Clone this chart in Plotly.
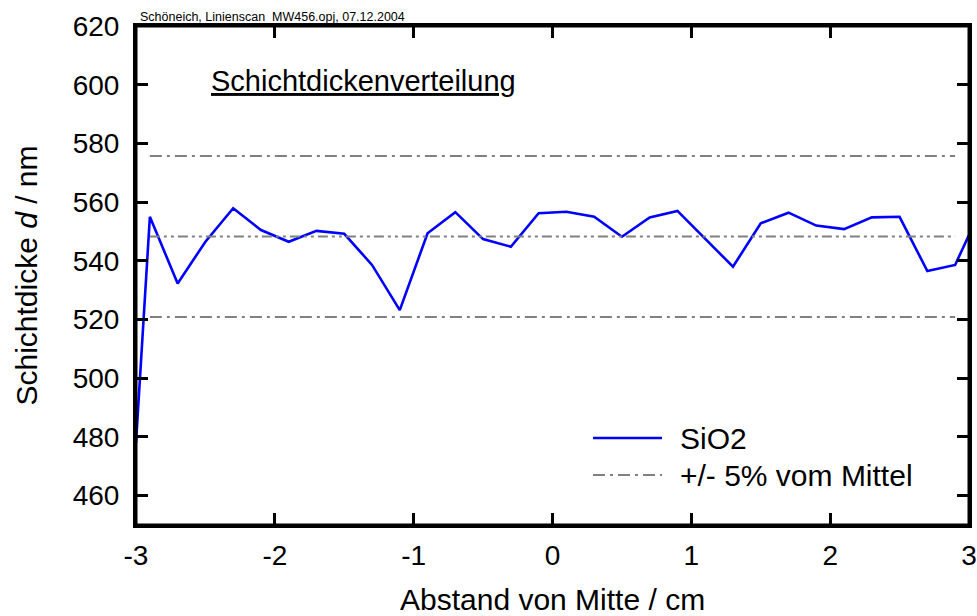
import plotly.graph_objects as go

# Data
pos_cm = [-3.0, -2.9, -2.7, -2.5, -2.3, -2.1, -1.9, -1.7, -1.5, -1.3, -1.1, -0.9,
          -0.7, -0.5, -0.3, -0.1, 0.1, 0.3, 0.5, 0.7, 0.9, 1.1, 1.3, 1.5, 1.7,
          1.9, 2.1, 2.3, 2.5, 2.7, 2.9, 3.0]
sio2_nm = [478.0, 555.0, 532.3, 546.5, 557.9, 550.5, 546.5, 550.2, 549.2, 538.6,
           523.2, 549.4, 556.6, 547.4, 544.8, 556.2, 556.7, 555.0, 548.2, 554.8,
           557.0, 547.5, 538.0, 552.8, 556.4, 552.0, 550.8, 554.8, 555.0, 536.5,
           538.6, 548.8]
ref_x = [-2.9, 2.9]
mean_nm = 548.3
upper_nm = 575.7
lower_nm = 520.9
x_ticks = [-3, -2, -1, 0, 1, 2, 3]
x_tick_labels = ["-3", "-2", "-1", "0", "1", "2", "3"]
y_ticks = [460, 480, 500, 520, 540, 560, 580, 600, 620]
y_tick_labels = ["460", "480", "500", "520", "540", "560", "580", "600", "620"]
legend_labels = ["SiO2", "+/- 5% vom Mittel"]

FONT = "Liberation Sans, Arial, sans-serif"
GRAY = "#808080"
BLUE = "#0000ff"
DASHDOT = "12px,5px,3px,5px"
DASHDOTDOT = "10px,4px,3px,4px,3px,4px"

fig = go.Figure()
fig.add_trace(go.Scatter(x=pos_cm, y=sio2_nm, mode="lines", name=legend_labels[0],
                         line=dict(color=BLUE, width=2.6)))
fig.add_trace(go.Scatter(x=ref_x, y=[upper_nm, upper_nm], mode="lines",
                         name=legend_labels[1], line=dict(color=GRAY, width=2, dash=DASHDOT)))
fig.add_trace(go.Scatter(x=ref_x, y=[lower_nm, lower_nm], mode="lines",
                         name=legend_labels[1], line=dict(color=GRAY, width=2, dash=DASHDOT)))
fig.add_trace(go.Scatter(x=ref_x, y=[mean_nm, mean_nm], mode="lines",
                         name="Mittel", line=dict(color=GRAY, width=2, dash=DASHDOTDOT)))

axis_common = dict(showline=True, linecolor="black", linewidth=3, mirror="allticks",
                   ticks="inside", ticklen=12, tickwidth=3, tickcolor="black",
                   showgrid=False, zeroline=False, automargin=False,
                   tickfont=dict(family=FONT, size=28, color="black"))

fig.update_xaxes(range=[-3, 3], tickvals=x_ticks, ticktext=x_tick_labels,
                 ticklabelstandoff=3, **axis_common)
fig.update_yaxes(range=[450, 620], tickvals=y_ticks, ticktext=y_tick_labels,
                 ticklabelstandoff=8,
                 title=dict(text="Schichtdicke <i>d</i> / nm",
                            font=dict(family=FONT, size=30, color="black"), standoff=27),
                 **axis_common)

# custom legend (sample lines + labels) placed like the original
leg_x0, leg_x1, leg_tx = 0.5486, 0.6315, 0.6507
leg_rows = [0.1743, 0.1002]
shapes = [
    dict(type="rect", xref="paper", yref="paper", x0=0, y0=0, x1=1, y1=1,
         line=dict(color="black", width=3), layer="above"),
    dict(type="line", xref="paper", yref="paper", x0=leg_x0, x1=leg_x1,
         y0=leg_rows[0], y1=leg_rows[0], line=dict(color=BLUE, width=2.6)),
    dict(type="line", xref="paper", yref="paper", x0=leg_x0, x1=leg_x1,
         y0=leg_rows[1], y1=leg_rows[1], line=dict(color=GRAY, width=2, dash=DASHDOT)),
]
annotations = [
    dict(text=legend_labels[i], xref="paper", yref="paper", x=leg_tx, y=leg_rows[i],
         xanchor="left", yanchor="middle", showarrow=False,
         font=dict(family=FONT, size=30, color="black"))
    for i in range(2)
]
annotations += [
    dict(text="Abstand von Mitte / cm", xref="paper", yref="paper",
         x=0.5, y=-0.15, xanchor="center", yanchor="middle", showarrow=False,
         font=dict(family=FONT, size=30, color="black")),
    dict(text="<u>Schichtdickenverteilung</u>", xref="paper", yref="paper",
         x=0.088, y=0.89, xanchor="left", yanchor="middle", showarrow=False,
         font=dict(family=FONT, size=29, color="black")),
    dict(text="Schöneich, Linienscan_MW456.opj, 07.12.2004", xref="paper", yref="paper",
         x=0.002, y=1.0, xanchor="left", yanchor="bottom", showarrow=False,
         font=dict(family=FONT, size=12.5, color="black")),
]

fig.update_layout(
    width=977, height=616,
    margin=dict(l=136, r=8, t=26, b=91, autoexpand=False),
    plot_bgcolor="white", paper_bgcolor="white",
    showlegend=False,
    shapes=shapes,
    annotations=annotations,
)

fig.write_html("out.html")
